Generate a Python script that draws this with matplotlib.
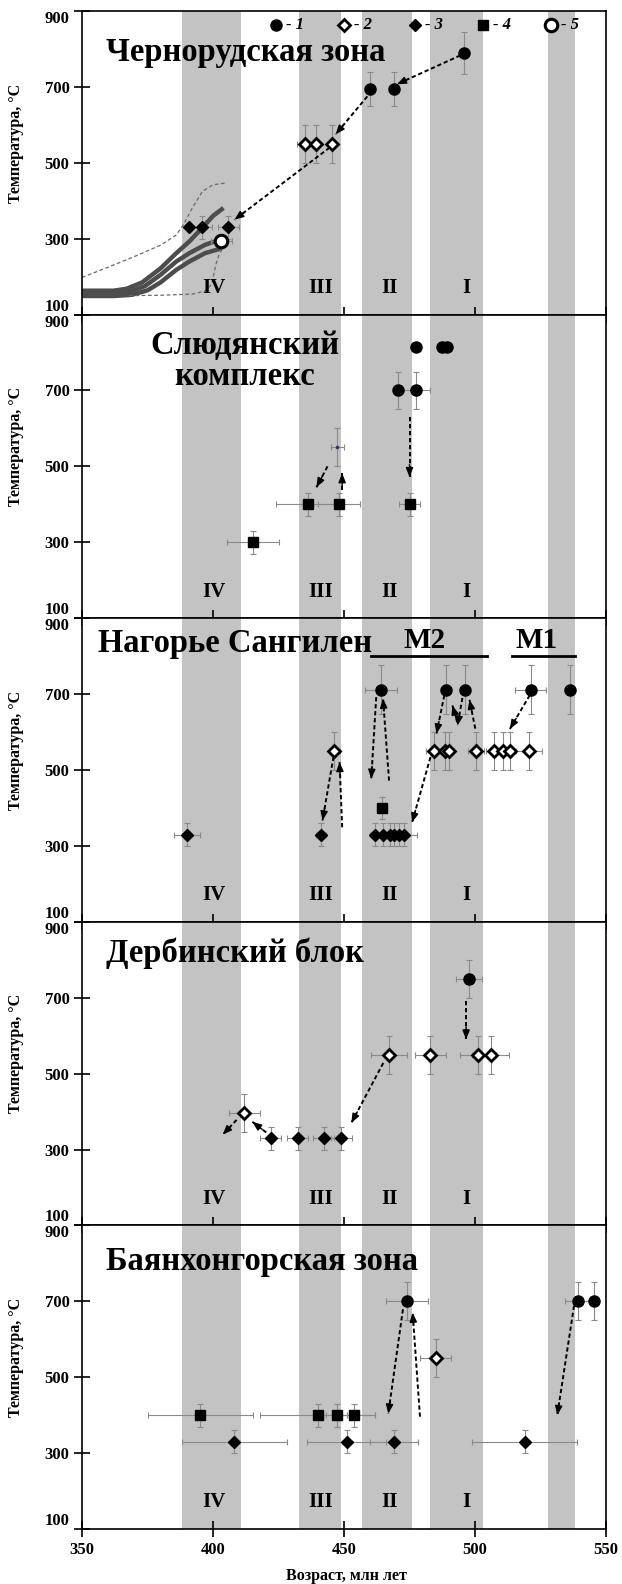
import numpy as np
import matplotlib
matplotlib.use("Agg")
import matplotlib.pyplot as plt

plt.rcParams['font.family'] = ['Liberation Serif', 'DejaVu Serif']
plt.rcParams['font.weight'] = 'bold'

# ---------------- data ----------------
x_min, x_max = 350, 550
y_min, y_max = 100, 900
x_ticks = [350, 400, 450, 500, 550]
y_ticks = [100, 300, 500, 700, 900]

# metamorphic stages (grey bands) and their labels
bands = [(388, 410.5), (433, 449), (457, 476), (483, 503), (528, 538)]
stage_labels = ['IV', 'III', 'II', 'I']
stage_x = [400.2, 441.2, 467.5, 496.7]
stage_y = 170

titles = ['Чернорудская зона', 'Слюдянский\nкомплекс', 'Нагорье Сангилен',
          'Дербинский блок', 'Баянхонгорская зона']
title_x = [359, 412, 356, 359, 359]
title_y = [790, 778, 834, 818, 806]
title_ha = ['left', 'center', 'left', 'left', 'left']

# legend symbols
leg_x = [424, 450, 477, 503, 529]
leg_y = 862
leg_labels = ['- 1', '- 2', '- 3', '- 4', '- 5']

# Panel 1: Chernorudskaya zone
p1_circ_x = [460.1, 469.1, 495.9]
p1_circ_y = [695, 695, 790]
p1_circ_xe = [0, 0, 0]
p1_circ_ye = [45, 45, 55]
p1_odia_x = [435.0, 439.2, 445.3]
p1_odia_y = [550, 550, 550]
p1_odia_xe = [3, 0, 0]
p1_odia_ye = [50, 50, 50]
p1_fdia_x = [390.8, 395.8, 405.9]
p1_fdia_y = [330, 330, 330]
p1_fdia_xe = [0, 4, 4]
p1_fdia_ye = [0, 30, 30]
p1_ocirc_x = [403.1]
p1_ocirc_y = [293]
p1_ocirc_xe = [4]
p1_ocirc_ye = [0]

# cooling paths (thick) and envelope (dashed)
path_top_x = [350, 362, 367, 373, 380, 386, 391, 395, 400, 404]
path_top_y = [163, 163, 168, 185, 222, 262, 293, 322, 360, 381]
path_mid_x = [350, 362, 368, 374, 380, 386, 391, 397, 402]
path_mid_y = [156, 156, 160, 175, 205, 240, 262, 284, 296]
path_low_x = [350, 362, 369, 375, 380, 386, 391, 397, 402, 404.5]
path_low_y = [149, 149, 152, 164, 185, 218, 240, 262, 272, 282]
env_up_x = [350, 360, 370, 380, 386, 389, 392, 396, 400, 405]
env_up_y = [198, 225, 253, 283, 310, 340, 380, 425, 442, 447]
env_low_x = [368, 380, 392, 397, 399.5, 401, 402.5, 405]
env_low_y = [150, 151, 154, 162, 180, 230, 262, 285]

p1_arrows = [(494.4, 783, 470.2, 707), (458.9, 675, 446.8, 575), (444.5, 540, 408.2, 350)]

# Panel 2: Slyudyanka complex
p2_circ_x = [477.5, 487.3, 489.3, 470.7, 477.5]
p2_circ_y = [815, 815, 815, 700, 700]
p2_circ_xe = [0, 0, 0, 0, 5.5]
p2_circ_ye = [0, 0, 0, 50, 50]
p2_sq_x = [436.2, 448.0, 475.0, 415.2]
p2_sq_y = [400, 400, 400, 300]
p2_sq_xe = [12, 8, 4, 10]
p2_sq_ye = [30, 30, 30, 30]
p2_dot_x = [447.5]
p2_dot_y = [550]
p2_dot_xe = [2.5]
p2_dot_ye = [50]
p2_arrows = [(443.7, 500, 439.5, 445), (449.3, 437, 449.3, 482), (475, 630, 475, 472)]

# Panel 3: Sangilen upland
p3_circ_x = [464.2, 489.1, 496.2, 521.2, 536.3]
p3_circ_y = [712, 712, 712, 712, 712]
p3_circ_xe = [6, 0, 0, 6, 2]
p3_circ_ye = [65, 65, 65, 65, 65]
p3_odia_x = [446.3, 484.3, 488.5, 490.0, 500.4, 507.2, 510.7, 513.3, 520.5]
p3_odia_y = [550] * 9
p3_odia_xe = [2, 3, 2, 2, 3, 3, 2, 2, 5]
p3_odia_ye = [50] * 9
p3_fdia_x = [390.1, 441.2, 462.0, 465.0, 467.5, 469.0, 471.0, 473.0]
p3_fdia_y = [330] * 8
p3_fdia_xe = [5, 2, 2, 2, 2, 2, 2, 5]
p3_fdia_ye = [30] * 8
p3_sq_x = [464.6]
p3_sq_y = [400]
p3_sq_xe = [2]
p3_sq_ye = [30]
p3_arrows = [(446, 535, 441.8, 367), (449.3, 349, 448.3, 521), (462.3, 692, 460.4, 477),
             (467.2, 472, 464.9, 688), (483, 534, 476, 362), (488.3, 697, 485.3, 596),
             (493.2, 626, 491.4, 670), (495.2, 690, 493.3, 617), (500.1, 609, 497.9, 685),
             (520.9, 697, 513.3, 608)]
m_labels = ['M2', 'M1']
m_label_x = [480.6, 523.4]
m_label_y = 840
m_line = [(460.4, 504.6), (514, 538.2)]
m_line_y = 800

# Panel 4: Derba block
p4_circ_x = [497.8]
p4_circ_y = [750]
p4_circ_xe = [5]
p4_circ_ye = [50]
p4_odia_x = [467.2, 483.0, 501.2, 506.0, 412.0]
p4_odia_y = [550, 550, 550, 550, 395]
p4_odia_xe = [7, 6, 7, 7, 6]
p4_odia_ye = [50, 50, 50, 50, 50]
p4_fdia_x = [422.1, 432.4, 442.2, 449.0]
p4_fdia_y = [330, 330, 330, 330]
p4_fdia_xe = [4, 4, 4, 4]
p4_fdia_ye = [30, 30, 30, 30]
p4_arrows = [(496.6, 691, 496.6, 590), (465, 528, 452.8, 370), (420.3, 345, 415, 373),
             (409, 378, 403.7, 339)]

# Panel 5: Bayankhongor zone
p5_circ_x = [474.0, 539.3, 545.3]
p5_circ_y = [700, 700, 700]
p5_circ_xe = [8, 5, 0]
p5_circ_ye = [50, 50, 50]
p5_odia_x = [485.0]
p5_odia_y = [550]
p5_odia_xe = [6]
p5_odia_ye = [50]
p5_fdia_x = [408.2, 451.0, 469.1, 519.0]
p5_fdia_y = [330, 330, 330, 330]
p5_fdia_xe = [20, 15, 9, 20]
p5_fdia_ye = [30, 30, 30, 30]
p5_sq_x = [395.1, 440.0, 447.2, 454.0]
p5_sq_y = [400, 400, 400, 400]
p5_sq_xe = [20, 22, 4, 8]
p5_sq_ye = [30, 30, 30, 30]
p5_arrows = [(472.5, 679, 466.9, 404), (479, 396, 476.2, 670), (537.8, 688, 531.4, 400)]

# ---------------- styles ----------------
STY = {
    'circ': dict(marker='o', ms=8, mfc='black', mec='black', mew=1),
    'odia': dict(marker='D', ms=6.5, mfc='white', mec='black', mew=2),
    'fdia': dict(marker='D', ms=6.5, mfc='black', mec='black', mew=1),
    'sq': dict(marker='s', ms=7, mfc='black', mec='black', mew=1),
    'ocirc': dict(marker='o', ms=9, mfc='white', mec='black', mew=2.2),
    'dot': dict(marker='o', ms=2, mfc='#1f2d8a', mec='#1f2d8a', mew=0.5),
}
ERR_COLOR = '#8a8a8a'
BAND_COLOR = '#c3c3c3'


def series(ax, kind, x, y, xe, ye):
    ax.errorbar(x, y, xerr=xe, yerr=ye, fmt='none', ecolor=ERR_COLOR,
                elinewidth=0.8, capsize=2, capthick=0.8, zorder=3)
    ax.plot(x, y, ls='none', zorder=5, **STY[kind])


def arrows(ax, segs):
    for x0, y0, x1, y1 in segs:
        p0 = ax.transData.transform((x0, y0))
        p1 = ax.transData.transform((x1, y1))
        d = p1 - p0
        u = d / np.hypot(*d)
        ax.plot([x0, x1], [y0, y1], ls=(0, (2.2, 1.4)), color='black', lw=1.4, zorder=4)
        ax.annotate('', xy=(x1, y1), xytext=(-u[0] * 9, -u[1] * 9), textcoords='offset points',
                    arrowprops=dict(arrowstyle='-|>,head_length=0.55,head_width=0.22',
                                    color='black', lw=1, shrinkA=0, shrinkB=0), zorder=4)


fig = plt.figure(figsize=(6.22, 15.84), dpi=100)
left, right = 82 / 622, 606 / 622
top, bottom = 1 - 11 / 1584, 1 - 1529 / 1584
h = (top - bottom) / 5
axes = []
for i in range(5):
    ax = fig.add_axes([left, top - (i + 1) * h, right - left, h])
    ax.set_xlim(x_min, x_max)
    ax.set_ylim(y_min, y_max)
    for b0, b1 in bands:
        ax.axvspan(b0, b1, color=BAND_COLOR, lw=0, zorder=0)
    for lab, sx in zip(stage_labels, stage_x):
        ax.text(sx, stage_y, lab, ha='center', va='center', fontsize=15, fontweight='bold', zorder=6)
    ax.text(title_x[i], title_y[i], titles[i], ha=title_ha[i], va='center', fontsize=23.5,
            fontweight='bold', linespacing=1.0, zorder=6)
    ax.set_xticks(x_ticks)
    ax.set_yticks(y_ticks)
    ax.tick_params(direction='inout', length=11, width=1.2, labelsize=12)
    ax.tick_params(axis='x', labelbottom=(i == 4))
    for lbl in ax.get_yticklabels():
        lbl.set_fontweight('bold')
    for lbl in ax.get_xticklabels():
        lbl.set_fontweight('bold')
    for sp in ax.spines.values():
        sp.set_linewidth(1.2)
    ax.set_ylabel('Температура, °C', fontsize=11.5, fontweight='bold')
    ax.yaxis.set_label_coords(-0.111, 0.565)
    axes.append(ax)

fig.canvas.draw()
for ax in axes:
    labels = ax.get_yticklabels()
    labels[0].set_verticalalignment('bottom')
    labels[-1].set_verticalalignment('top')

ax1, ax2, ax3, ax4, ax5 = axes

# Panel 1
for px, py in [(path_top_x, path_top_y), (path_mid_x, path_mid_y), (path_low_x, path_low_y)]:
    ax1.plot(px, py, color='#4d4d4d', lw=3.2, solid_capstyle='butt', zorder=2)
ax1.plot(env_up_x, env_up_y, color='#6a6a6a', lw=0.9, ls=(0, (3, 2)), zorder=2)
ax1.plot(env_low_x, env_low_y, color='#6a6a6a', lw=0.9, ls=(0, (3, 2)), zorder=2)
series(ax1, 'circ', p1_circ_x, p1_circ_y, p1_circ_xe, p1_circ_ye)
series(ax1, 'odia', p1_odia_x, p1_odia_y, p1_odia_xe, p1_odia_ye)
series(ax1, 'fdia', p1_fdia_x, p1_fdia_y, p1_fdia_xe, p1_fdia_ye)
series(ax1, 'ocirc', p1_ocirc_x, p1_ocirc_y, p1_ocirc_xe, p1_ocirc_ye)
arrows(ax1, p1_arrows)
for kind, lx, lt in zip(['circ', 'odia', 'fdia', 'sq', 'ocirc'], leg_x, leg_labels):
    ax1.plot([lx], [leg_y], ls='none', zorder=6, **STY[kind])
    ax1.text(lx + 4, leg_y, lt, ha='left', va='center', fontsize=12, fontstyle='italic',
             fontweight='bold', zorder=6)

# Panel 2
series(ax2, 'circ', p2_circ_x, p2_circ_y, p2_circ_xe, p2_circ_ye)
series(ax2, 'sq', p2_sq_x, p2_sq_y, p2_sq_xe, p2_sq_ye)
series(ax2, 'dot', p2_dot_x, p2_dot_y, p2_dot_xe, p2_dot_ye)
arrows(ax2, p2_arrows)

# Panel 3
series(ax3, 'circ', p3_circ_x, p3_circ_y, p3_circ_xe, p3_circ_ye)
series(ax3, 'odia', p3_odia_x, p3_odia_y, p3_odia_xe, p3_odia_ye)
series(ax3, 'fdia', p3_fdia_x, p3_fdia_y, p3_fdia_xe, p3_fdia_ye)
series(ax3, 'sq', p3_sq_x, p3_sq_y, p3_sq_xe, p3_sq_ye)
arrows(ax3, p3_arrows)
for lab, mx, (l0, l1) in zip(m_labels, m_label_x, m_line):
    ax3.text(mx, m_label_y, lab, ha='center', va='center', fontsize=21, fontweight='bold', zorder=6)
    ax3.plot([l0, l1], [m_line_y, m_line_y], color='black', lw=2, zorder=6)

# Panel 4
series(ax4, 'circ', p4_circ_x, p4_circ_y, p4_circ_xe, p4_circ_ye)
series(ax4, 'odia', p4_odia_x, p4_odia_y, p4_odia_xe, p4_odia_ye)
series(ax4, 'fdia', p4_fdia_x, p4_fdia_y, p4_fdia_xe, p4_fdia_ye)
arrows(ax4, p4_arrows)

# Panel 5
series(ax5, 'circ', p5_circ_x, p5_circ_y, p5_circ_xe, p5_circ_ye)
series(ax5, 'odia', p5_odia_x, p5_odia_y, p5_odia_xe, p5_odia_ye)
series(ax5, 'fdia', p5_fdia_x, p5_fdia_y, p5_fdia_xe, p5_fdia_ye)
series(ax5, 'sq', p5_sq_x, p5_sq_y, p5_sq_xe, p5_sq_ye)
arrows(ax5, p5_arrows)

fig.text(0.557, 1 - 1576 / 1584, 'Возраст, млн лет', ha='center', va='center',
         fontsize=11.5, fontweight='bold')

fig.savefig('out.png', dpi=100)
